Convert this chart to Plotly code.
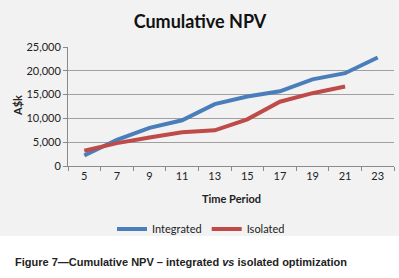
import plotly.graph_objects as go

periods = [5, 7, 9, 11, 13, 15, 17, 19, 21, 23]
integrated = [2200, 5500, 8000, 9600, 13000, 14600, 15700, 18200, 19500, 22800]
isolated_periods = [5, 7, 9, 11, 13, 15, 17, 19, 21]
isolated = [3200, 4800, 6000, 7100, 7500, 9800, 13500, 15300, 16700]
x_tick_labels = [str(p) for p in periods]

W, H = 399, 278
L, R, T, B = 68, 5, 47, 112
pw = W - L - R
ph = H - T - B

def px(x):
    return (x - L) / pw

def py(y):
    return (H - B - y) / ph

fig = go.Figure()
fig.add_trace(go.Scatter(x=periods, y=integrated, mode="lines", name="Integrated",
                         line=dict(color="#4A7EBB", width=4)))
fig.add_trace(go.Scatter(x=isolated_periods, y=isolated, mode="lines", name="Isolated",
                         line=dict(color="#BE4B48", width=4)))

fig.update_layout(
    width=W, height=H,
    margin=dict(l=L, r=R, t=T, b=B),
    paper_bgcolor="white",
    plot_bgcolor="#e4e4e4",
    font=dict(family="Lato, Open Sans, sans-serif", size=11, color="#222"),
    title=dict(text="<b>Cumulative NPV</b>", x=200 / W, xanchor="center",
               y=1 - 22 / H, yanchor="middle", yref="container",
               font=dict(size=18, color="#111", family="Lato, Open Sans, sans-serif")),
    showlegend=True,
    legend=dict(orientation="h", x=px(201), xanchor="center", y=py(229), yanchor="middle",
                bgcolor="rgba(0,0,0,0)", font=dict(size=11, color="#222"),
                itemwidth=30, tracegroupgap=0),
    xaxis=dict(range=[4, 24], tickvals=periods, ticktext=x_tick_labels, ticks="",
               showgrid=False, zeroline=False, showline=True, linecolor="#8a8a8a",
               tickfont=dict(size=11, color="#222"),
               minor=dict(tick0=4, dtick=2, ticks="outside", ticklen=4, tickcolor="#8a8a8a",
                          showgrid=False)),
    yaxis=dict(range=[0, 25000], dtick=5000, tickformat=",", ticks="outside", ticklen=4,
               tickcolor="#8a8a8a", showgrid=True, gridcolor="#a0a0a0", gridwidth=1,
               zeroline=False, showline=True, linecolor="#8a8a8a",
               tickfont=dict(size=11, color="#222")),
    shapes=[dict(type="rect", xref="paper", yref="paper", layer="below",
                 x0=px(0), x1=px(W), y0=py(236), y1=py(0),
                 fillcolor="#f2f2f2", line=dict(width=0))],
    annotations=[
        dict(text="<b>A$k</b>", xref="paper", yref="paper", x=px(17), y=py(105),
             textangle=-90, showarrow=False, xanchor="center", yanchor="middle",
             font=dict(size=11, color="#222")),
        dict(text="<b>Time Period</b>", xref="paper", yref="paper", x=px(231), y=py(198),
             showarrow=False, xanchor="center", yanchor="middle",
             font=dict(size=11, color="#222")),
        dict(text="<b>Figure 7\u2014Cumulative NPV \u2013 integrated <i>vs</i> isolated optimization</b>",
             xref="paper", yref="paper", x=px(13), y=py(262), showarrow=False,
             xanchor="left", yanchor="middle",
             font=dict(size=11, color="#222", family="Liberation Sans Narrow, Arial Narrow, Liberation Sans, sans-serif")),
    ],
)

fig.write_html("out.html", config={"displayModeBar": False},
               post_script="document.body.style.margin='0';")
